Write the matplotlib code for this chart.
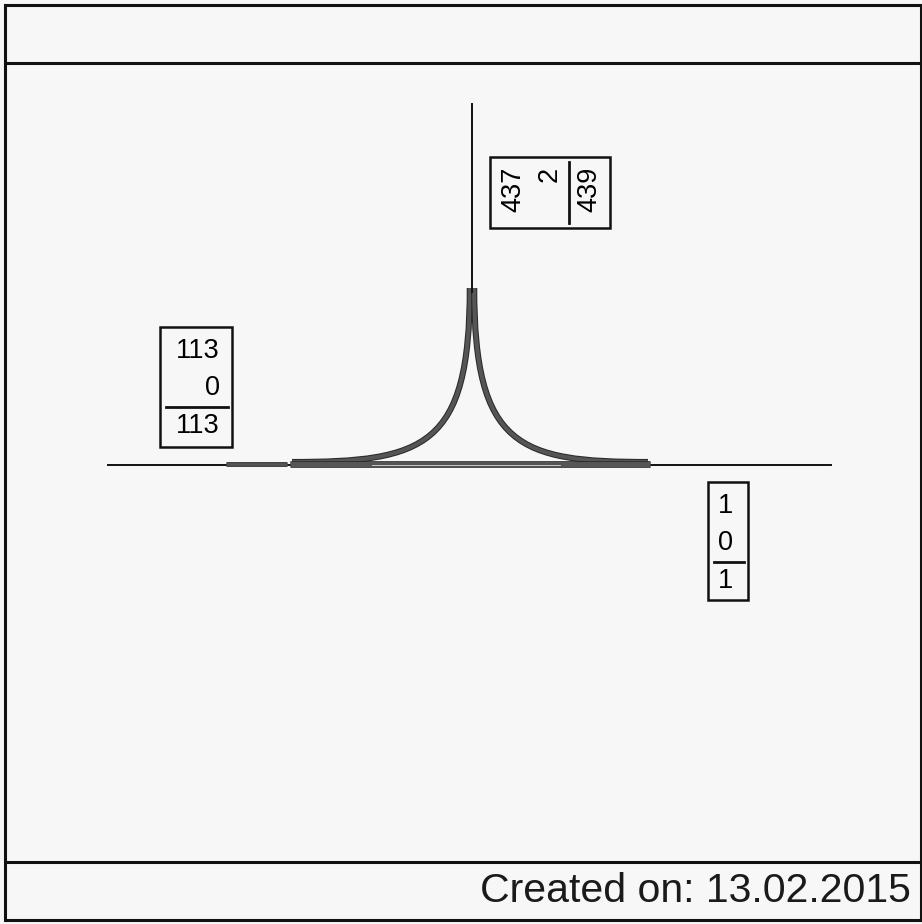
import matplotlib
matplotlib.use("Agg")
import matplotlib.pyplot as plt
from matplotlib.patches import Rectangle, PathPatch
from matplotlib.path import Path
import matplotlib.patheffects as pe

plt.rcParams['font.family'] = ['Liberation Sans', 'DejaVu Sans']

# Counts per arm: cars, trucks, total
arms = ["West", "North", "East"]
cars = [113, 437, 1]
trucks = [0, 2, 0]
totals = [113, 439, 1]
created = "Created on: 13.02.2015"

BG = "#f7f7f7"
BAND = "#555555"

fig = plt.figure(figsize=(9.22, 9.24), dpi=100, facecolor=BG)
ax = fig.add_axes([0, 0, 1, 1])
ax.set_xlim(0, 922)
ax.set_ylim(924, 0)
ax.axis("off")
ax.set_facecolor(BG)

# page frame
for y in [5, 63, 862, 920]:
    ax.plot([5, 921], [y, y], color="#111111", lw=2.2, solid_capstyle="butt")
for x in [5, 921]:
    ax.plot([x, x], [5, 920], color="#111111", lw=2.2)

# roads (covered by the flow bands where traffic runs)
ax.plot([108, 290], [465, 465], color="#111111", lw=1.4)
ax.plot([650, 831], [465, 465], color="#111111", lw=1.4)
ax.plot([472, 472], [104, 292], color="#111111", lw=1.4)

edge = [pe.Stroke(linewidth=4.4, foreground="#2a2a2a"), pe.Normal()]
thin_edge = [pe.Stroke(linewidth=3.4, foreground="#2a2a2a"), pe.Normal()]


def curve(p0, c1, c2, p1):
    path = Path([p0, c1, c2, p1], [Path.MOVETO, Path.CURVE4, Path.CURVE4, Path.CURVE4])
    ax.add_patch(PathPatch(path, fill=False, edgecolor=BAND, lw=2.9,
                           capstyle="butt", path_effects=edge))


# flow bands
ax.plot([290, 650], [464, 464], color=BAND, lw=3.6, solid_capstyle="butt",
        path_effects=[pe.Stroke(linewidth=4.8, foreground="#2a2a2a"), pe.Normal()])
ax.plot([372, 560], [464.5, 464.5], color="#d8d8d8", lw=0.6)
ax.plot([226, 287], [464, 464], color=BAND, lw=2.0, solid_capstyle="butt", path_effects=thin_edge)

curve((469.8, 288), (469.8, 447), (425, 462), (292, 462))
curve((474.2, 288), (474.2, 447), (519, 462), (648, 462))


def count_box(x0, y0, w, h, vals, rotated=False, margin=12):
    ax.add_patch(Rectangle((x0, y0), w, h, fill=False, edgecolor="#111111", lw=1.8))
    v1, v2, v3 = vals
    if not rotated:
        xr = x0 + w - margin
        ax.text(xr, y0 + 24, str(v1), ha="right", va="center", fontsize=19.5)
        ax.text(xr, y0 + 61, str(v2), ha="right", va="center", fontsize=19.5)
        ax.plot([x0 + 6, x0 + w - 4], [y0 + 80, y0 + 80], color="#111111", lw=2)
        ax.text(xr, y0 + 99, str(v3), ha="right", va="center", fontsize=19.5)
    else:
        yt = y0 + 10
        ax.text(x0 + 23, yt, str(v1), ha="right", va="center", fontsize=19.5,
                rotation=90, rotation_mode="anchor")
        ax.text(x0 + 60, yt, str(v2), ha="right", va="center", fontsize=19.5,
                rotation=90, rotation_mode="anchor")
        ax.plot([x0 + 79, x0 + 79], [y0 + 5, y0 + h - 5], color="#111111", lw=2)
        ax.text(x0 + 99, yt, str(v3), ha="right", va="center", fontsize=19.5,
                rotation=90, rotation_mode="anchor")


count_box(160, 327, 72, 120, (cars[0], trucks[0], totals[0]))
count_box(490, 157, 120, 71, (cars[1], trucks[1], totals[1]), rotated=True)
count_box(708, 482, 40, 118, (cars[2], trucks[2], totals[2]), margin=15)

ax.text(911, 891, created, ha="right", va="center", fontsize=29.5, color="#1a1a1a")

fig.savefig("out.png", dpi=100, facecolor=BG)
